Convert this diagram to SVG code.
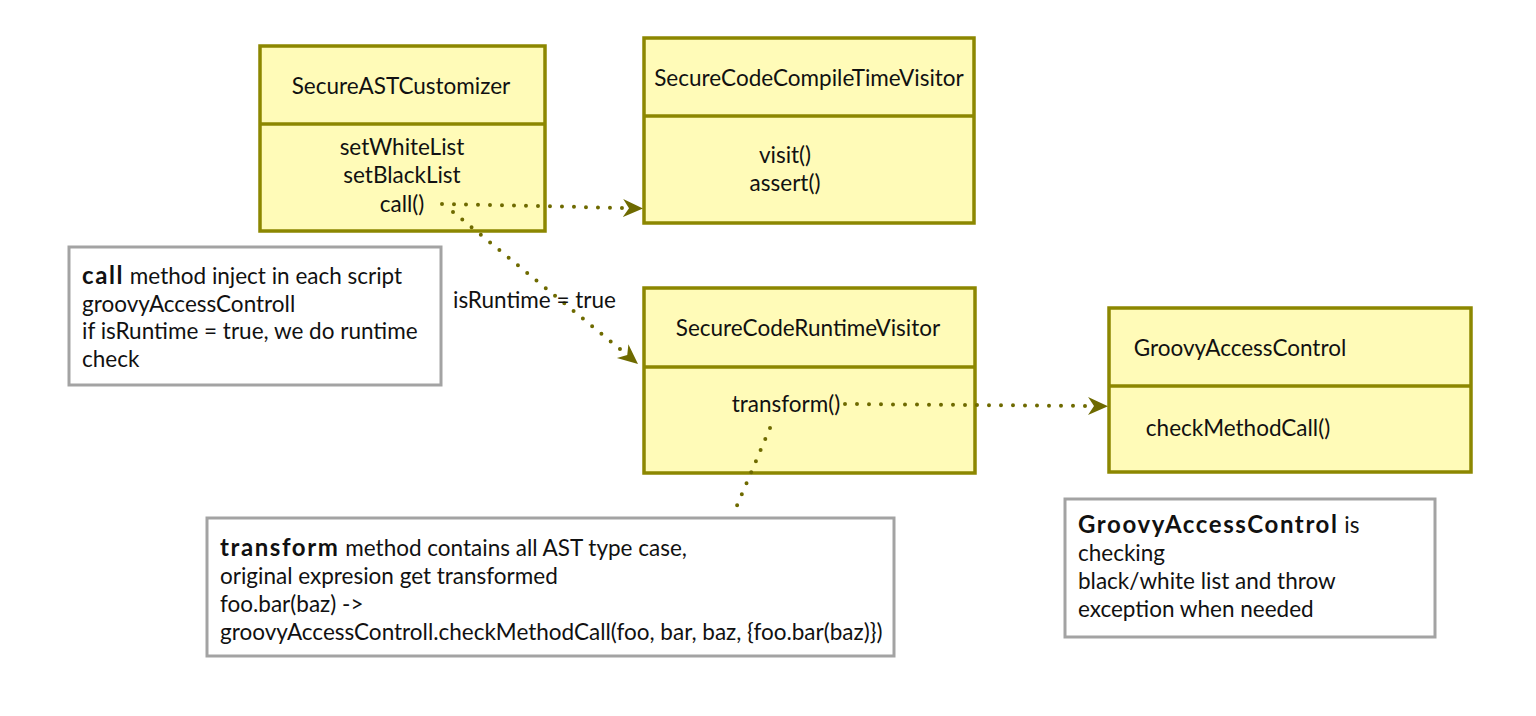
<svg xmlns="http://www.w3.org/2000/svg" width="1536" height="716" viewBox="0 0 1536 716">
<style>
.cls{fill:#fffbb8;stroke:#8c8700;stroke-width:3.5}
.div{stroke:#8c8700;stroke-width:3.5}
.note{fill:#ffffff;stroke:#a3a3a3;stroke-width:3}
text{font-family:Lato,"Liberation Sans",sans-serif;font-size:22.5px;fill:#111}
.c{text-anchor:middle}
.b{font-weight:bold;font-size:24px;letter-spacing:1.6px}
.dot{fill:none;stroke:#6e6a00;stroke-width:4;stroke-linecap:round;stroke-dasharray:0 12}
</style>
<defs>
<marker id="arr" markerUnits="userSpaceOnUse" markerWidth="24" markerHeight="20" refX="20" refY="9" orient="auto">
<path d="M0,0 L20,9 L0,18 L6,9 Z" fill="#6e6a00"/>
</marker>
</defs>
<rect width="1536" height="716" fill="#ffffff"/>
<g id="SecureASTCustomizer">
<rect class="cls" x="260" y="46" width="285" height="185"/>
<line class="div" x1="260" y1="124" x2="545" y2="124"/>
<text class="c" x="401" y="94">SecureASTCustomizer</text>
<text class="c" x="402" y="155">setWhiteList</text>
<text class="c" x="402" y="183">setBlackList</text>
<text class="c" x="402" y="212">call()</text>
</g>
<g id="SecureCodeCompileTimeVisitor">
<rect class="cls" x="644" y="38" width="330" height="185"/>
<line class="div" x1="644" y1="116" x2="974" y2="116"/>
<text class="c" x="809" y="86">SecureCodeCompileTimeVisitor</text>
<text class="c" x="785" y="163">visit()</text>
<text class="c" x="785" y="191">assert()</text>
</g>
<g id="SecureCodeRuntimeVisitor">
<rect class="cls" x="644" y="288" width="331" height="185"/>
<line class="div" x1="644" y1="367" x2="975" y2="367"/>
<text class="c" x="808" y="336">SecureCodeRuntimeVisitor</text>
<text class="c" x="786" y="412">transform()</text>
</g>
<g id="GroovyAccessControl">
<rect class="cls" x="1109" y="308" width="362" height="164"/>
<line class="div" x1="1109" y1="386" x2="1471" y2="386"/>
<text class="c" x="1240" y="356">GroovyAccessControl</text>
<text class="c" x="1238" y="436">checkMethodCall()</text>
</g>
<g id="note-call">
<rect class="note" x="69" y="247" width="372" height="138"/>
<text x="82" y="284"><tspan class="b">call</tspan> method inject in each script</text>
<text x="82" y="312">groovyAccessControll</text>
<text x="82" y="339">if isRuntime = true, we do runtime</text>
<text x="82" y="367">check</text>
</g>
<g id="note-transform">
<rect class="note" x="207" y="518" width="687" height="138"/>
<text x="220" y="556"><tspan class="b">transform</tspan> method contains all AST type case,</text>
<text x="220" y="584">original expresion get transformed</text>
<text x="220" y="612">foo.bar(baz) -&gt;</text>
<text x="220" y="640">groovyAccessControll.checkMethodCall(foo, bar, baz, {foo.bar(baz)})</text>
</g>
<g id="note-gac">
<rect class="note" x="1065" y="499" width="370" height="138"/>
<text x="1078" y="533"><tspan class="b" font-size="25" letter-spacing="1.4">GroovyAccessControl</tspan> is</text>
<text x="1078" y="561">checking</text>
<text x="1078" y="589">black/white list and throw</text>
<text x="1078" y="617">exception when needed</text>
</g>
<g id="connectors">
<path class="dot" d="M442,204 L626,208" />
<path d="M620,208 L643,208.5" stroke="none" fill="none" marker-end="url(#arr)"/>
<path class="dot" d="M453,212 L626,354"/>
<path d="M620,349 L638,364" stroke="none" fill="none" marker-end="url(#arr)"/>
<path class="dot" d="M845,404 L1092,406"/>
<path d="M1085,406 L1108,406.2" stroke="none" fill="none" marker-end="url(#arr)"/>
<path class="dot" d="M770,428 L733,515"/>
<text x="453" y="308">isRuntime = true</text>
</g>
</svg>
